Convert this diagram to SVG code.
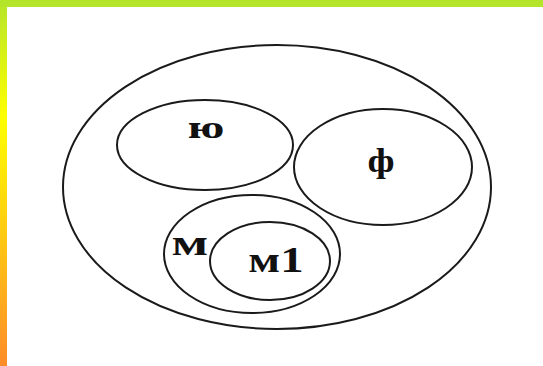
<svg xmlns="http://www.w3.org/2000/svg" width="543" height="366" viewBox="0 0 543 366">
<defs>
<linearGradient id="lg" x1="0" y1="0" x2="0" y2="1">
<stop offset="0" stop-color="#b5e52a"/>
<stop offset="0.32" stop-color="#ffff00"/>
<stop offset="0.6" stop-color="#ffd010"/>
<stop offset="1" stop-color="#ff8c28"/>
</linearGradient>
<style>
.e{fill:none;stroke:#1a1a1a;stroke-width:2}
.t{font-family:"Liberation Serif",serif;font-weight:bold;fill:#111;text-anchor:middle}
</style>
</defs>
<rect x="0" y="0" width="543" height="366" fill="#fff"/>
<rect x="0" y="0" width="7" height="366" fill="url(#lg)"/>
<rect x="0" y="0" width="543" height="7" fill="#b5e52a"/>
<g id="outer"><ellipse class="e" cx="277" cy="187" rx="214" ry="142"/></g>
<g id="yu"><ellipse class="e" cx="205" cy="145" rx="88" ry="45"/>
<text class="t" font-size="32" transform="translate(206,138) scale(1.5,1)">ю</text></g>
<g id="f"><ellipse class="e" cx="383" cy="167" rx="89" ry="58"/>
<text class="t" font-size="34" font-weight="normal" transform="translate(381,172) scale(1.15,1)">ф</text></g>
<g id="m"><ellipse class="e" cx="252" cy="254" rx="88" ry="59"/>
<text class="t" font-size="36" transform="translate(190,255) scale(1.5,1)">м</text></g>
<g id="m1"><ellipse class="e" cx="270" cy="261" rx="60" ry="39"/>
<text class="t" font-size="36" transform="translate(276,272) scale(1.3,1)">м1</text></g>
</svg>
